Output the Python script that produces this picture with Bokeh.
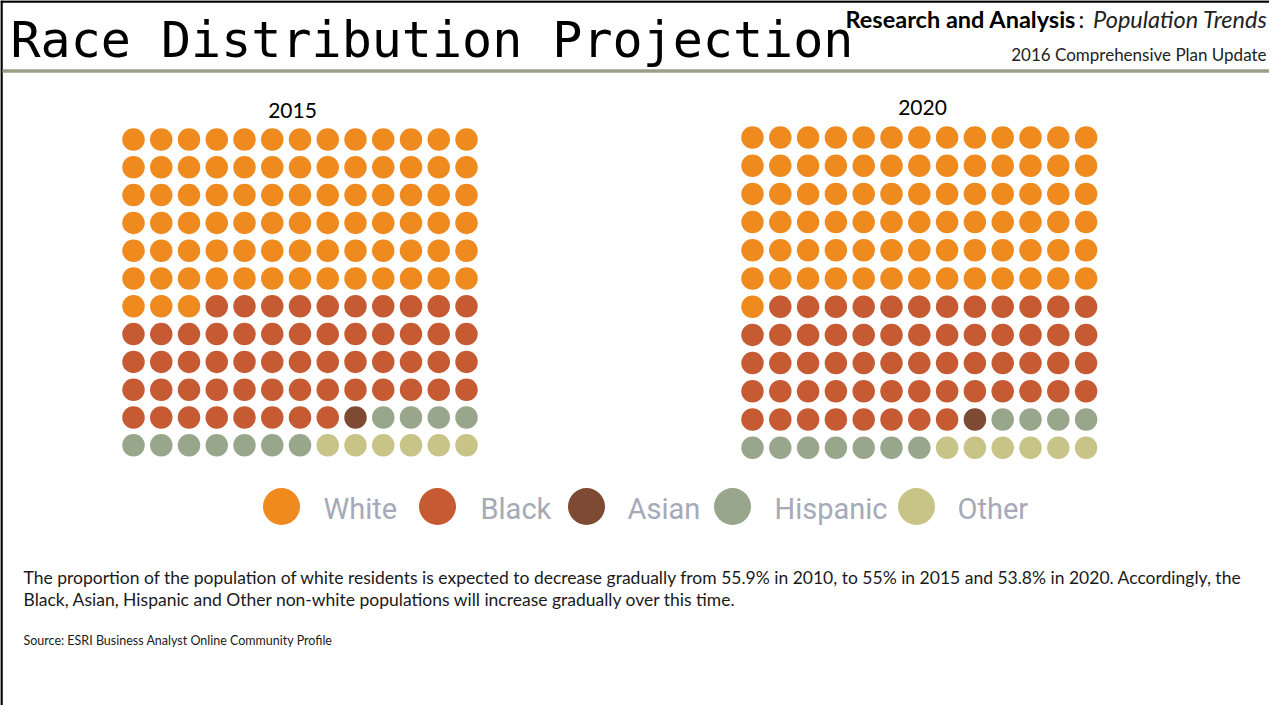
from bokeh.plotting import figure
from bokeh.models import Range1d, ColumnDataSource
from bokeh.core.properties import value
from bokeh.embed import file_html
from bokeh.resources import INLINE

# ---- data ----
categories = ["White", "Black", "Asian", "Hispanic", "Other"]
counts_2015 = [81, 57, 1, 11, 6]
counts_2020 = [79, 59, 1, 11, 6]
colors = ["#ef8a1f", "#c65b33", "#7e4a33", "#98a68b", "#c8c386"]
years = ["2015", "2020"]
n_cols = 13
n_rows = 12

title = "Race Distribution Projection"
sub_bold = "Research and Analysis"
sub_italic = "Population Trends"
sub_line2 = "2016 Comprehensive Plan Update"
body1 = ("The proportion of the population of white residents is expected to decrease gradually "
         "from 55.9% in 2010, to 55% in 2015 and 53.8% in 2020.  Accordingly, the")
body2 = "Black, Asian, Hispanic and Other non-white populations will increase gradually over this time."
source = "Source: ESRI Business Analyst Online Community Profile"

W, H = 1269, 705
p = figure(width=W, height=H, x_range=Range1d(0, W), y_range=Range1d(H, 0),
           output_backend="svg", toolbar_location=None, min_border=0)
p.axis.visible = False
p.grid.visible = False
p.outline_line_color = None
p.background_fill_color = "white"
p.border_fill_color = "white"

# frame lines
p.segment(x0=[1], y0=[0], x1=[1], y1=[H], line_color="black", line_width=2.5)
p.segment(x0=[0], y0=[1], x1=[W], y1=[1], line_color="black", line_width=2.5)
p.segment(x0=[2], y0=[70.5], x1=[W], y1=[70.5], line_color="#99a088", line_width=3.5)

# header texts
p.text(x=[10], y=[39], text=[title], text_font=value("DejaVu Sans Mono"), text_font_size="50px",
       text_color="black", text_baseline="middle", text_align="left")
p.text(x=[845], y=[18], text=[sub_bold], text_font=value("Lato"), text_font_size="23.5px",
       text_font_style="bold", text_color="black", text_baseline="middle", text_align="left")
p.text(x=[1078], y=[18], text=[":"], text_font=value("Lato"), text_font_size="23px",
       text_color="black", text_baseline="middle", text_align="left")
p.text(x=[1267], y=[18], text=[sub_italic], text_font=value("Lato"), text_font_size="23.5px",
       text_font_style="italic", text_color="#222222", text_baseline="middle", text_align="right")
p.text(x=[1266], y=[54], text=[sub_line2], text_font=value("Lato"), text_font_size="17px",
       text_color="#222222", text_baseline="middle", text_align="right")

# waffles
layouts = [
    dict(x0=133, dx=27.75, y0=139, dy=27.8, tx=292, ty=110),
    dict(x0=752, dx=27.8, y0=137, dy=28.2, tx=922, ty=107),
]
for year, counts, lay in zip(years, [counts_2015, counts_2020], layouts):
    xs, ys, cs = [], [], []
    idx = 0
    for cat_i, n in enumerate(counts):
        for _ in range(n):
            r, c = divmod(idx, n_cols)
            xs.append(lay["x0"] + c * lay["dx"])
            ys.append(lay["y0"] + r * lay["dy"])
            cs.append(colors[cat_i])
            idx += 1
    src = ColumnDataSource(dict(x=xs, y=ys, color=cs))
    p.scatter("x", "y", source=src, size=22.5, marker="circle", fill_color="color", line_color=None)
    p.text(x=[lay["tx"]], y=[lay["ty"]], text=[year], text_font=value("Lato"), text_font_size="21px",
           text_color="black", text_baseline="middle", text_align="center")

# legend
leg_cx = [281, 437, 586, 732, 916]
leg_tx = [323, 480, 627, 774, 957]
p.scatter(x=leg_cx, y=[506] * 5, size=37, marker="circle", fill_color=colors, line_color=None)
p.text(x=leg_tx, y=[508] * 5, text=categories, text_font=value("Roboto"), text_font_size="29px",
       text_color="#a6a9b8", text_baseline="middle", text_align="left")

# body text
p.text(x=[23, 23], y=[577, 599], text=[body1, body2], text_font=value("Lato"), text_font_size="17.5px",
       text_color="#1a1a1a", text_baseline="middle", text_align="left")
p.text(x=[23], y=[640], text=[source], text_font=value("Lato"), text_font_size="12.5px",
       text_color="#1a1a1a", text_baseline="middle", text_align="left")

open("out.html", "w").write(file_html(p, INLINE))
